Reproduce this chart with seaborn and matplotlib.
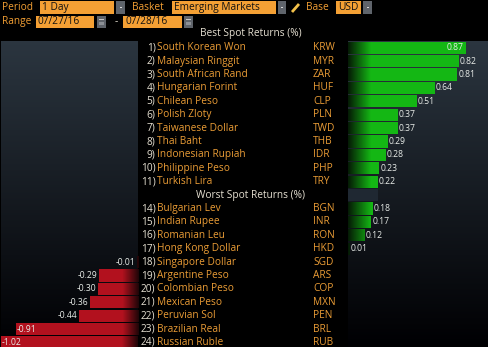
import numpy as np
import pandas as pd
import matplotlib
matplotlib.use("Agg")
import matplotlib.pyplot as plt
from matplotlib.patches import Rectangle
import seaborn as sns

# ---- data -------------------------------------------------------------
ranks = [1, 2, 3, 4, 5, 6, 7, 8, 9, 10, 11,
         14, 15, 16, 17, 18, 19, 20, 21, 22, 23, 24]
names = ["South Korean Won", "Malaysian Ringgit", "South African Rand",
         "Hungarian Forint", "Chilean Peso", "Polish Zloty",
         "Taiwanese Dollar", "Thai Baht", "Indonesian Rupiah",
         "Philippine Peso", "Turkish Lira",
         "Bulgarian Lev", "Indian Rupee", "Romanian Leu", "Hong Kong Dollar",
         "Singapore Dollar", "Argentine Peso", "Colombian Peso",
         "Mexican Peso", "Peruvian Sol", "Brazilian Real", "Russian Ruble"]
codes = ["KRW", "MYR", "ZAR", "HUF", "CLP", "PLN", "TWD", "THB", "IDR",
         "PHP", "TRY",
         "BGN", "INR", "RON", "HKD", "SGD", "ARS", "COP", "MXN", "PEN",
         "BRL", "RUB"]
returns = [0.87, 0.82, 0.81, 0.64, 0.51, 0.37, 0.37, 0.29, 0.28, 0.23, 0.22,
           0.18, 0.17, 0.12, 0.01, -0.01, -0.29, -0.30, -0.36, -0.44,
           -0.91, -1.02]

best_title = "Best Spot Returns (%)"
worst_title = "Worst Spot Returns (%)"

# ---- layout -----------------------------------------------------------
W, H, DPI = 488, 347, 100
ROW = 13.4          # px per table row
TOP = 41.0          # px, top of first row
PXU = 134.5         # px per 1 % of return

ORANGE = "#f4a034"
AMBER_TXT = "#eb9d36"
LIGHT = "#e6e0d2"
BLACK = "#000000"

# table slots: 11 best, one header slot, 11 worst
slots = [str(r) for r in ranks[:11]] + ["hdr"] + [str(r) for r in ranks[11:]]
slot_pos = {s: i for i, s in enumerate(slots)}

df = pd.DataFrame({"slot": [str(r) for r in ranks], "name": names,
                   "code": codes, "ret": returns})
pos_df = df[df["ret"] > 0]
neg_df = df[df["ret"] < 0]

sns.set_theme(style="dark")
plt.rcParams["font.family"] = ["Open Sans", "DejaVu Sans"]

fig = plt.figure(figsize=(W / DPI, H / DPI), dpi=DPI, facecolor=BLACK)

# overlay axes in pixel coordinates for header and table text
ov = fig.add_axes([0, 0, 1, 1])
ov.set_xlim(0, W)
ov.set_ylim(H, 0)
ov.axis("off")
ov.patch.set_alpha(0)


def px_axes(x0, y0, x1, y1):
    return fig.add_axes([x0 / W, 1 - y1 / H, (x1 - x0) / W, (y1 - y0) / H])


ylo = -0.5
yhi = -0.5 + (H - TOP) / ROW

bg = np.linspace(0, 1, 256)[:, None]
bg_top = np.array([0.17, 0.21, 0.25])
bg_bot = np.array([0.0, 0.0, 0.01])
bg_img = bg_top[None, None, :] * (1 - bg[:, :, None]) + bg_bot[None, None, :] * bg[:, :, None]


def panel(ax, xlim):
    ax.set_xlim(*xlim)
    ax.set_ylim(yhi, ylo)
    ax.imshow(bg_img, extent=[xlim[0], xlim[1], yhi, ylo], aspect="auto",
              zorder=0, interpolation="bilinear")
    ax.set_axis_off()


def gradient_fill(ax, xlim, color_fn):
    xs = np.linspace(xlim[0], xlim[1], 400)
    img = np.array([color_fn(x) for x in xs])[None, :, :]
    for p in list(ax.patches):
        im = ax.imshow(img, extent=[xlim[0], xlim[1], yhi, ylo],
                       aspect="auto", zorder=3, interpolation="bilinear")
        im.set_clip_path(p)


# ---- right panel: gains ----------------------------------------------
rx0, rx1 = 348, W
rlim = (0, (rx1 - rx0) / PXU)
axr = px_axes(rx0, TOP, rx1, H)
sns.barplot(data=pos_df, y="slot", x="ret", order=slots, orient="h",
            width=0.9, color="#14b414", saturation=1, errorbar=None,
            linewidth=0, edgecolor="none", ax=axr, zorder=2)
panel(axr, rlim)

g_bright = np.array([0.08, 0.72, 0.08])
g_dark = np.array([0.02, 0.10, 0.02])


def green(x):
    t = np.clip(x / 0.17, 0, 1)
    return g_dark * (1 - t) + g_bright * t


gradient_fill(axr, rlim, green)
axr.add_patch(Rectangle((0, slot_pos["hdr"] - 0.45), 0.22, 0.9,
                        color="#1f2832", lw=0, zorder=1))

# ---- left panel: losses ----------------------------------------------
lx0, lx1 = 1, 138
llim = (-(lx1 - lx0) / PXU, 0)
axl = px_axes(lx0, TOP, lx1, H)
sns.barplot(data=neg_df, y="slot", x="ret", order=slots, orient="h",
            width=0.9, color="#b3111f", saturation=1, errorbar=None,
            linewidth=0, edgecolor="none", ax=axl, zorder=2)
panel(axl, llim)

r_bright = np.array([0.70, 0.07, 0.12])
r_dark = np.array([0.12, 0.02, 0.03])


def red(x):
    t = np.clip(-x / 0.12, 0, 1)
    return r_dark * (1 - t) + r_bright * t


gradient_fill(axl, llim, red)

# ---- value labels -----------------------------------------------------
LBL = 0.18
VFS = 6.2
for _, r in pos_df.iterrows():
    y = slot_pos[r["slot"]]
    v = r["ret"]
    if v + LBL > rlim[1]:
        axr.text(v - 0.01, y, f"{v:.2f}", ha="right", va="center",
                 color="#e8ece8", fontsize=VFS, zorder=5)
    else:
        axr.text(v + 0.01, y, f"{v:.2f}", ha="left", va="center",
                 color="#e8ece8", fontsize=VFS, zorder=5)
for _, r in neg_df.iterrows():
    y = slot_pos[r["slot"]]
    v = r["ret"]
    if v - LBL < llim[0]:
        axl.text(v + 0.01, y, f"{v:.2f}", ha="left", va="center",
                 color="#e8ece8", fontsize=VFS, zorder=5)
    else:
        axl.text(v - 0.01, y, f"{v:.2f}", ha="right", va="center",
                 color="#e8ece8", fontsize=VFS, zorder=5)

# ---- table text -------------------------------------------------------
FS = 7.3


def row_y(i):
    return TOP + (i + 0.5) * ROW


for _, r in df.iterrows():
    y = row_y(slot_pos[r["slot"]])
    ov.text(155.5, y, f"{r['slot']})", ha="right", va="center",
            color=LIGHT, fontsize=FS)
    ov.text(157, y, r["name"], ha="left", va="center",
            color=AMBER_TXT, fontsize=FS)
    ov.text(313, y, r["code"], ha="left", va="center",
            color=AMBER_TXT, fontsize=FS)

ov.text(251, 33.5, best_title, ha="center", va="center", color=LIGHT,
        fontsize=FS)
ov.text(251, row_y(slot_pos["hdr"]), worst_title, ha="center",
        va="center", color=LIGHT, fontsize=FS)

# ---- header controls --------------------------------------------------
def field(x0, x1, y0, y1, text):
    ov.add_patch(Rectangle((x0, y0), x1 - x0, y1 - y0, color=ORANGE,
                           lw=0, zorder=2))
    ov.text(x0 + 2, (y0 + y1) / 2 + 0.3, text, ha="left", va="center",
            color="#111111", fontsize=FS, zorder=3)


def button(x0, x1, y0, y1):
    ov.add_patch(Rectangle((x0, y0), x1 - x0, y1 - y0, color="#5f646b",
                           lw=0, zorder=2))
    cx, cy = (x0 + x1) / 2, (y0 + y1) / 2
    ov.add_patch(Rectangle((cx - 1, cy - 0.5), 2, 1.5, color="#d8d8d8",
                           lw=0, zorder=3))


def calendar(x0, x1, y0, y1):
    ov.add_patch(Rectangle((x0, y0), x1 - x0, y1 - y0, color="#5f646b",
                           lw=0, zorder=2))
    ov.add_patch(Rectangle((x0 + 2, y0 + 3), x1 - x0 - 4, 1.2,
                           color="#c8c8c8", lw=0, zorder=3))
    ov.add_patch(Rectangle((x0 + 2, y0 + 6), x1 - x0 - 4, 3.5,
                           color="#8c9096", lw=0, zorder=3))


def label(x, y, text):
    ov.text(x, y, text, ha="left", va="center", color=ORANGE, fontsize=FS)


r1a, r1b = 1, 13.5
r2a, r2b = 15.5, 27.5
label(2, 7.5, "Period")
field(40, 114, r1a, r1b, "1 Day")
button(116, 125, r1a, r1b)
label(132, 7.5, "Basket")
field(172, 276, r1a, r1b, "Emerging Markets")
button(278, 286, r1a, r1b)
ov.plot([292, 299], [12, 4], color="#f2c14a", lw=2, solid_capstyle="butt")
label(306, 7.5, "Base")
field(336, 361, r1a, r1b, "USD")
button(363, 372, r1a, r1b)

label(2, 21.5, "Range")
field(36, 94, r2a, r2b, "07/27/16")
calendar(97, 106, r2a, r2b)
ov.text(115, 21.5, "-", ha="left", va="center", color=LIGHT, fontsize=FS)
field(123, 182, r2a, r2b, "07/28/16")
calendar(184, 193, r2a, r2b)

fig.savefig("out.png", dpi=DPI, facecolor=BLACK)
